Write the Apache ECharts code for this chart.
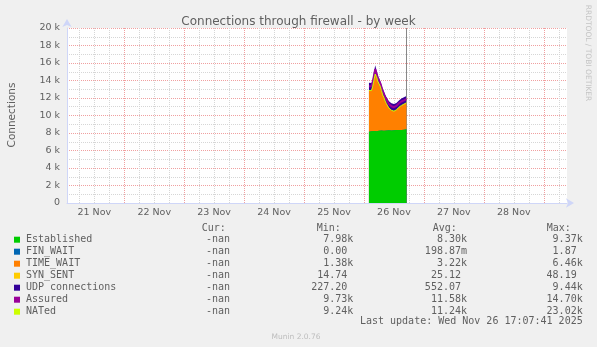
<!DOCTYPE html>
<html><head><meta charset="utf-8">
<script src="https://cdn.jsdelivr.net/npm/echarts@6/dist/echarts.min.js"></script>
<style>html,body{margin:0;padding:0;background:#f0f0f0;}#c{width:597px;height:347px;}</style>
</head><body><div id="c"></div>
<script>
// ---- data ----
const times = ['2025-11-26 02:00','2025-11-26 02:30','2025-11-26 03:00','2025-11-26 03:30','2025-11-26 04:00','2025-11-26 04:30','2025-11-26 05:00','2025-11-26 05:30','2025-11-26 06:00','2025-11-26 06:30','2025-11-26 07:00','2025-11-26 07:30','2025-11-26 08:00','2025-11-26 08:30','2025-11-26 09:00','2025-11-26 09:30','2025-11-26 10:00','2025-11-26 10:30','2025-11-26 11:00','2025-11-26 11:30','2025-11-26 12:00','2025-11-26 12:30','2025-11-26 13:00','2025-11-26 13:30','2025-11-26 14:00','2025-11-26 14:30','2025-11-26 15:00','2025-11-26 15:30','2025-11-26 16:00','2025-11-26 16:30','2025-11-26 17:00'];
const established = [8150,8200,8200,8180,8220,8250,8200,8220,8250,8300,8280,8250,8270,8300,8280,8300,8320,8300,8280,8300,8320,8300,8350,8330,8350,8320,8350,8400,8380,8400,8420];
const finWait = [0,0,0,0,0,0,0,0,0,0,0,0,0,0,0,0,0,0,0,0,0,0,0,0,0,0,0,0,0,0,0];
const timeWait = [4650,4550,4600,5120,5780,6450,6200,5680,5600,5000,4520,4050,3730,3300,3020,2750,2480,2350,2270,2180,2130,2180,2250,2420,2550,2680,2750,2800,2870,2900,2980];
const synSent = [30,28,25,32,40,45,35,28,26,24,22,20,22,21,20,19,20,22,21,20,22,24,23,25,24,26,25,27,26,25,24];
const udp = [900,950,900,800,900,1000,750,650,600,650,700,700,750,750,800,800,800,820,820,830,830,820,800,780,800,820,830,820,800,800,800];
const assured = [13350,13350,13350,13800,14550,15300,14850,14300,14200,13700,13250,12750,12450,12050,11800,11550,11300,11150,11050,11000,10950,10980,11100,11220,11400,11500,11600,11700,11730,11780,11880];
const nated = [12850,12800,12850,13350,14050,14750,14450,13950,13900,13350,12850,12350,12050,11650,11350,11100,10850,10700,10600,10530,10500,10530,10650,10800,10950,11050,11150,11250,11300,11350,11450];
const dayLabels = ['21 Nov','22 Nov','23 Nov','24 Nov','25 Nov','26 Nov','27 Nov','28 Nov'];
const yTicks = [0,2000,4000,6000,8000,10000,12000,14000,16000,18000,20000];
const legendNames = ['Established','FIN_WAIT','TIME_WAIT','SYN_SENT','UDP connections','Assured','NATed'];
const curVals = ['-nan','-nan','-nan','-nan','-nan','-nan','-nan'];
const minVals = ['7.98k','0.00','1.38k','14.74','227.20','9.73k','9.24k'];
const avgVals = ['8.30k','198.87m','3.22k','25.12','552.07','11.58k','11.24k'];
const maxVals = ['9.37k','1.87','6.46k','48.19','9.44k','14.70k','23.02k'];
const lastUpdate = 'Last update: Wed Nov 26 17:07:41 2025';
const nowTime = '2025-11-26 17:07:41';

// ---- styling / helpers ----
const palette = ['#00cc00','#0066b3','#ff8000','#ffcc00','#330099','#990099','#ccff00'];
function ts(s){const [d,t]=s.split(' ');const [Y,M,D]=d.split('-').map(Number);const p=t.split(':').map(Number);return Date.UTC(Y,M-1,D,p[0],p[1],p[2]||0);}
const H = 3600000;
const base = Date.UTC(2025,10,21,0,0,0);
const xMin = base + 1.08*H, xMax = base + 201.3*H;
const minorX = [], majorX = [], labelX = [];
for (let d=0; d<=9; d++){ majorX.push(base+d*24*H); [6,12,18].forEach(h=>minorX.push(base+(d*24+h)*H)); }
dayLabels.forEach((l,i)=>labelX.push(base+(i*24+12)*H));
const minorY = []; for (let v=1000; v<20000; v+=2000) minorY.push(v);
const T = times.map(ts);
const pairs = arr => arr.map((v,i)=>[T[i],v]);
const FONT = '"DejaVu Sans", Verdana, sans-serif';
const MONO = '"DejaVu Sans Mono", monospace';
const TXT = '#606060';

// cumulative stack (rrdtool STACK), drawn from the top layer down
const layers = [established, finWait, timeWait, synSent, udp];
const cum = []; let run = established.map(()=>0);
layers.forEach(l=>{ run = run.map((v,i)=>v+l[i]); cum.push(run.slice()); });
const series = [];
for (let k=layers.length-1; k>=0; k--){
  series.push({name:legendNames[k], type:'line', data:pairs(cum[k]), symbol:'none', showSymbol:false,
    lineStyle:{width:0}, areaStyle:{color:palette[k], opacity:1, origin:'start'}, itemStyle:{color:palette[k]}, z:2+(layers.length-k)});
}
series[series.length-1].markLine = {silent:true, symbol:'none', label:{show:false},
  lineStyle:{color:'#888888', type:'solid', width:1}, data:[{xAxis: ts(nowTime)}]};
series.push({name:legendNames[5], type:'line', data:pairs(assured), symbol:'none', showSymbol:false, lineStyle:{width:2, color:palette[5]}, z:10});
series.push({name:legendNames[6], type:'line', data:pairs(nated), symbol:'none', showSymbol:false, lineStyle:{width:1, color:palette[6]}, z:11});

// legend graphics
const g = [];
const rowY0 = 239.7, rowH = 12, cw = 6.02;
g.push({type:'text', x:12, y:115, rotation:Math.PI/2, style:{text:'Connections', font:'10.5px '+FONT, fill:TXT, align:'center', verticalAlign:'middle'}});
g.push({type:'text', x:588, y:53, rotation:-Math.PI/2, style:{text:'RRDTOOL / TOBI OETIKER', font:'7.5px '+FONT, fill:'#c4c4c4', align:'center', verticalAlign:'middle'}});
[['Cur:',201.7],['Min:',316.7],['Avg:',432.7],['Max:',546.7]].forEach(h=>{
  g.push({type:'text', x:h[1], y:228.3, style:{text:h[0], font:'10px '+MONO, fill:TXT, align:'left', verticalAlign:'middle'}});
});
function rightEdge(s, edge){ return /[0-9]$/.test(s) ? edge - cw : edge; }
legendNames.forEach((n,i)=>{
  const y = rowY0 + i*rowH;
  g.push({type:'rect', shape:{x:14, y:y-3, width:6, height:6}, style:{fill:palette[i]}});
  g.push({type:'text', x:26, y:y, style:{text:n, font:'10px '+MONO, fill:TXT, align:'left', verticalAlign:'middle'}});
  g.push({type:'text', x:230, y:y, style:{text:curVals[i], font:'10px '+MONO, fill:TXT, align:'right', verticalAlign:'middle'}});
  g.push({type:'text', x:rightEdge(minVals[i],353.3), y:y, style:{text:minVals[i], font:'10px '+MONO, fill:TXT, align:'right', verticalAlign:'middle'}});
  g.push({type:'text', x:rightEdge(avgVals[i],467), y:y, style:{text:avgVals[i], font:'10px '+MONO, fill:TXT, align:'right', verticalAlign:'middle'}});
  g.push({type:'text', x:rightEdge(maxVals[i],582.7), y:y, style:{text:maxVals[i], font:'10px '+MONO, fill:TXT, align:'right', verticalAlign:'middle'}});
});
g.push({type:'text', x:582.7, y:321.7, style:{text:lastUpdate, font:'10px '+MONO, fill:TXT, align:'right', verticalAlign:'middle'}});
g.push({type:'text', x:296, y:337, style:{text:'Munin 2.0.76', font:'7.5px '+FONT, fill:'#bdbdbd', align:'center', verticalAlign:'middle'}});

const axisCol = '#cfd6f8';
const chart = echarts.init(document.getElementById('c'), null, {renderer:'canvas'});
chart.setOption({
  animation:false,
  backgroundColor:'#f0f0f0',
  title:{text:'Connections through firewall - by week', left:'center', top:11,
    textStyle:{fontSize:12, fontWeight:'normal', color:TXT, fontFamily:FONT}},
  grid:{left:67, right:30, top:28, bottom:144, show:true, backgroundColor:'#ffffff', borderWidth:0},
  xAxis:[
    {type:'value', min:xMin, max:xMax, position:'bottom',
      axisLine:{show:true, lineStyle:{color:axisCol, width:1}, symbol:['none','arrow'], symbolSize:[7,8], symbolOffset:[0,7]},
      axisTick:{show:false, customValues:minorX},
      axisLabel:{show:true, customValues:labelX, margin:5, color:TXT, fontSize:9.5, fontFamily:FONT,
        formatter:v=>dayLabels[Math.round((v-base)/H/24-0.5)]},
      splitLine:{show:true, lineStyle:{color:'#d6d6d6', type:[1,1], width:1}}},
    {type:'value', min:xMin, max:xMax, position:'bottom',
      axisLine:{show:false}, axisTick:{show:false, customValues:majorX}, axisLabel:{show:false},
      splitLine:{show:true, lineStyle:{color:'#f0a0a0', type:[1,1], width:1}}}
  ],
  yAxis:[
    {type:'value', min:0, max:20000, position:'left',
      axisLine:{show:true, lineStyle:{color:axisCol, width:1}, symbol:['none','arrow'], symbolSize:[7,8], symbolOffset:[0,9]},
      axisTick:{show:false, customValues:minorY},
      axisLabel:{show:true, customValues:yTicks, margin:7, color:TXT, fontSize:9.5, fontFamily:FONT,
        formatter:v=> v===0 ? '0' : (v/1000)+' k'},
      splitLine:{show:true, lineStyle:{color:'#d6d6d6', type:[1,1], width:1}}},
    {type:'value', min:0, max:20000, position:'left',
      axisLine:{show:false}, axisTick:{show:false, customValues:yTicks}, axisLabel:{show:false},
      splitLine:{show:true, lineStyle:{color:'#f0a0a0', type:[1,1], width:1}}}
  ],
  series: series,
  graphic: g
});
</script></body></html>
